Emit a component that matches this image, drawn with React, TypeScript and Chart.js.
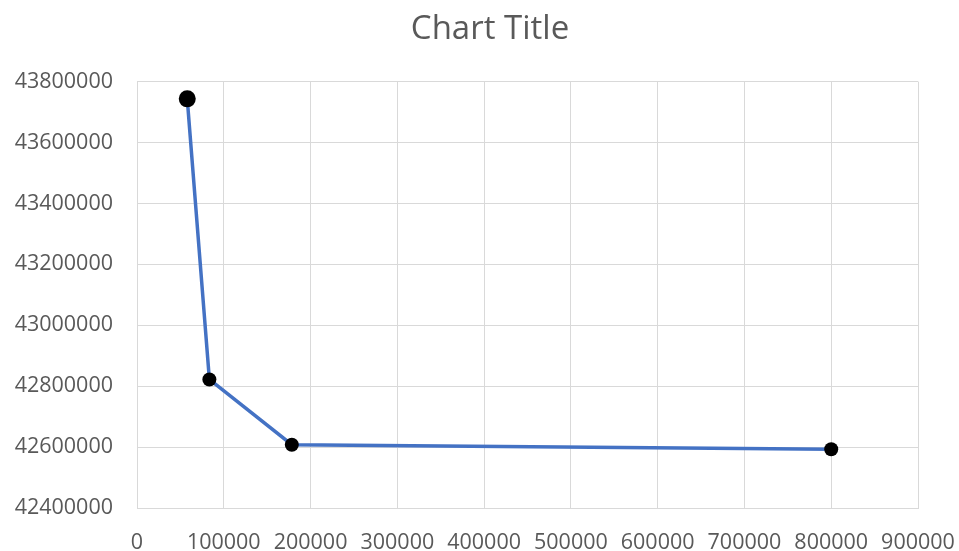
import React, { useEffect, useRef } from "react";
import { Chart, registerables } from "chart.js";

Chart.register(...registerables);

const xValues = [57900, 83400, 178400, 800000];
const yValues = [43743300, 42822000, 42607900, 42593000];
const markerRadii = [8.5, 7, 7, 7];
const chartTitle = "Chart Title";

export default function App() {
  const ref = useRef<HTMLCanvasElement | null>(null);

  useEffect(() => {
    document.body.style.margin = "0";
    const canvas = ref.current;
    if (!canvas) return;
    const font = "'Open Sans', 'Liberation Sans', sans-serif";
    const gray = "#595959";
    const unclipY = {
      id: "unclipY",
      afterLayout(c: any) {
        if (c.scales.y) c.scales.y.left = 0;
      },
    };
    const chart = new Chart(canvas, {
      type: "scatter",
      data: {
        datasets: [
          {
            data: xValues.map((x, i) => ({ x, y: yValues[i] })),
            showLine: true,
            borderColor: "#4472C4",
            borderWidth: 3.5,
            pointBackgroundColor: "#000000",
            pointBorderColor: "#000000",
            pointBorderWidth: 0,
            pointRadius: markerRadii,
            pointHoverRadius: markerRadii,
            tension: 0,
          },
        ],
      },
      options: {
        animation: false,
        responsive: false,
        devicePixelRatio: 1,
        layout: { padding: { left: 21, right: 0, top: 0, bottom: 0 } },
        plugins: {
          legend: { display: false },
          tooltip: { enabled: false },
          title: {
            display: true,
            text: chartTitle,
            color: gray,
            font: { family: font, size: 33, weight: "normal" },
            padding: { top: 10, bottom: 32 },
          },
        },
        scales: {
          x: {
            type: "linear",
            min: 0,
            max: 900000,
            ticks: {
              stepSize: 100000,
              color: gray,
              font: { family: font, size: 21.5 },
              padding: 22,
              maxRotation: 0,
              autoSkip: false,
              callback: (v: any) => String(v),
            },
            grid: { color: "#D9D9D9", lineWidth: 1, drawTicks: false },
            border: { color: "#D9D9D9" },
            afterFit: (s: any) => {
              s.height = 43;
              s.paddingLeft = 0;
              s.paddingRight = 41;
            },
          },
          y: {
            type: "linear",
            min: 42400000,
            max: 43800000,
            ticks: {
              stepSize: 200000,
              color: gray,
              font: { family: font, size: 21.5 },
              padding: 24,
              autoSkip: false,
              callback: (v: any) => String(v),
            },
            grid: { color: "#D9D9D9", lineWidth: 1, drawTicks: false },
            border: { color: "#D9D9D9" },
            afterFit: (s: any) => {
              s.width = 116;
            },
          },
        },
      },
      plugins: [unclipY],
    });
    return () => chart.destroy();
  }, []);

  return <canvas ref={ref} width={959} height={551} style={{ display: "block" }} />;
}
